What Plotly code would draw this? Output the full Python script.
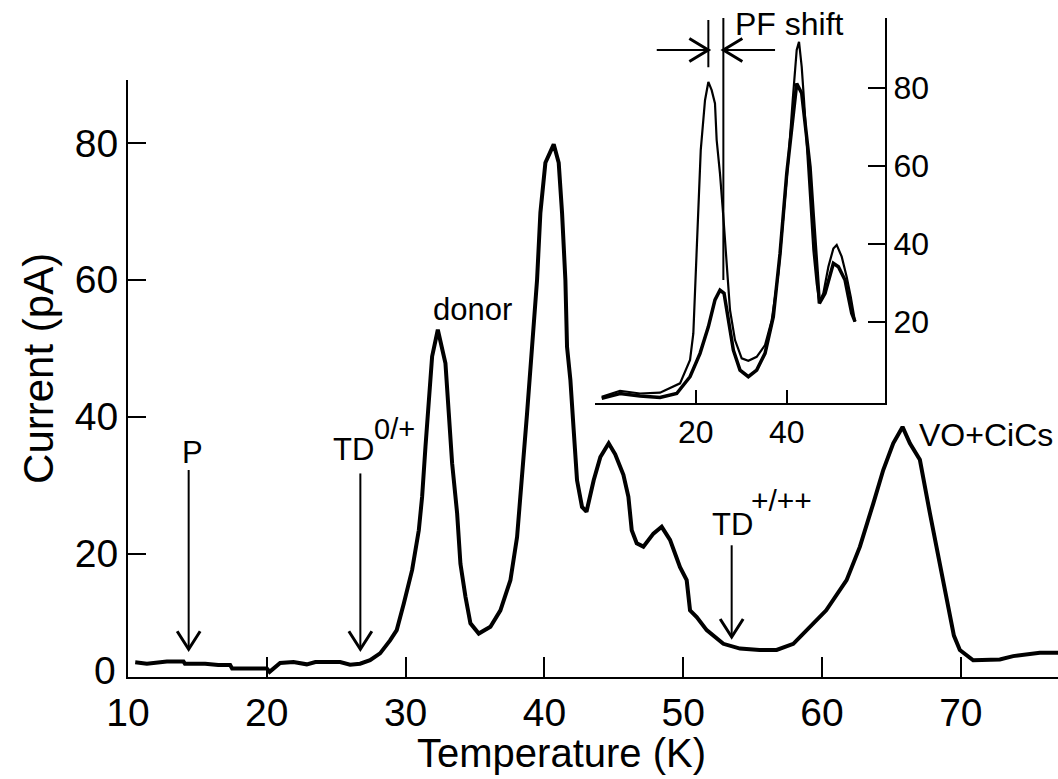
import plotly.graph_objects as go

# ---------------- data ----------------
# main TSC spectrum: temperature (K) and current (pA)
main_T = [10.52, 11.36, 12.8, 14.0, 14.1, 15.56, 16.5, 17.36, 17.5, 18.5, 20.0, 20.2,
          20.96, 21.92, 22.88, 23.5, 25.28, 26.0, 26.72, 27.44, 28.16, 28.88, 29.36,
          29.87, 30.47, 30.95, 31.19, 31.43, 31.67, 31.91, 32.32, 32.87, 33.11, 33.35,
          33.71, 33.95, 34.31, 34.67, 35.27, 36.11, 36.83, 37.55, 38.03, 38.39, 38.75,
          39.11, 39.47, 39.71, 40.07, 40.67, 41.03, 41.27, 41.51, 41.63, 41.87, 42.11,
          42.35, 42.71, 43.03, 43.55, 44.03, 44.63, 45.1, 45.69, 46.05, 46.29, 46.65,
          47.13, 47.85, 48.45, 49.05, 49.41, 49.77, 50.25, 50.49, 50.97, 51.69, 52.89,
          54.09, 55.5, 56.73, 57.93, 58.87, 60.3, 61.77, 62.73, 63.69, 64.41, 65.13,
          65.8, 66.33, 67.05, 67.77, 68.49, 69.09, 69.5, 69.93, 70.89, 72.81, 73.77,
          75.69, 77.0]
main_I = [4.1, 3.9, 4.2, 4.2, 3.9, 3.9, 3.7, 3.7, 3.2, 3.2, 3.2, 2.7,
          4.0, 4.15, 3.8, 4.15, 4.15, 3.75, 3.9, 4.4, 5.4, 7.3, 8.8,
          12.7, 17.6, 23.4, 28.3, 35.6, 42.9, 48.8, 52.7, 47.8, 40.5, 33.2,
          25.9, 18.5, 13.7, 9.8, 8.3, 9.3, 11.7, 16.1, 22.4, 30.7, 40.5,
          50.2, 60.0, 69.8, 77.1, 79.8, 77.1, 69.8, 60.0, 50.2, 45.4, 38.0,
          30.7, 26.8, 26.1, 30.7, 34.1, 36.1, 34.5, 31.5, 28.3, 23.4, 21.5,
          21.0, 22.9, 23.9, 22.0, 20.0, 18.0, 16.1, 11.7, 10.7, 8.8, 6.8,
          6.1, 5.9, 5.9, 6.8, 8.8, 11.7, 16.1, 21.0, 27.3, 32.2, 36.1,
          38.5, 36.1, 33.7, 25.9, 18.5, 11.7, 8.0, 5.9, 4.4, 4.5, 5.0,
          5.5, 5.5]

# inset: thin curve
inset_thin_T = [-0.67, 3.36, 7.76, 12.15, 16.55, 18.75, 19.47, 20.35, 21.1, 22.04, 22.77,
                23.5, 24.23, 24.6, 25.33, 26.07, 26.8, 27.53, 28.63, 30.1, 31.56, 33.4,
                35.23, 36.7, 38.16, 39.26, 40.36, 41.31, 41.82, 42.19, 42.7, 43.29, 43.8,
                45.12, 45.85, 46.58, 47.17, 48.05, 49.15, 50.25, 50.98, 52.08, 53.18,
                54.06, 55.01]
inset_thin_I = [0.77, 2.3, 1.6, 1.8, 4.2, 10.2, 17.0, 42.7, 64.0, 76.8, 81.5,
                79.4, 76.0, 66.6, 58.0, 46.9, 34.1, 23.0, 15.3, 10.6, 10.0, 11.0,
                14.0, 20.4, 32.4, 46.9, 61.5, 76.8, 83.7, 89.7, 91.8, 85.4, 76.8,
                51.2, 38.4, 29.8, 25.1, 27.3, 34.1, 38.8, 39.7, 36.7, 31.5,
                26.4, 20.0]
# inset: thick curve
inset_thick_T = [-0.67, 3.36, 7.76, 12.15, 15.82, 18.75, 20.95, 22.77, 24.23, 25.33, 26.22,
                 27.17, 28.27, 29.73, 31.56, 33.4, 35.23, 37.05, 38.53, 40.0, 41.1, 42.19,
                 43.29, 45.12, 45.85, 46.58, 47.17, 48.42, 50.25, 51.35, 52.81, 53.55,
                 54.28, 55.01]
inset_thick_I = [0.36, 1.6, 0.95, 0.6, 1.6, 5.9, 11.9, 18.7, 25.6, 28.1, 27.3,
                 20.4, 12.7, 7.6, 5.9, 7.6, 11.9, 21.3, 37.5, 58.0, 70.0, 81.1,
                 78.6, 59.7, 46.9, 34.1, 24.7, 27.3, 35.0, 34.1, 30.7, 26.4,
                 22.2, 20.0]

x_tick_vals = [10, 20, 30, 40, 50, 60, 70]
x_tick_text = ["10", "20", "30", "40", "50", "60", "70"]
y_tick_vals = [20, 40, 60, 80]
y_tick_text = ["20", "40", "60", "80"]
y_zero_label = "0"
inset_x_ticks = [20, 40]
inset_y_ticks = [20, 40, 60, 80]

FONT = "Liberation Sans, Arial, sans-serif"
BLACK = "#000000"

# layout geometry
W, H = 1058, 779
M_L, M_R, M_T, M_B = 128, 0, 18, 102
X_RANGE = [10, 77]
Y_RANGE = [1.95, 89.2]
Y_DOM = [0, 0.9059]
X2_RANGE = [-2.13, 61.6]
Y2_RANGE = [-0.77, 97.9]
X2_DOM = [0.5022, 0.814]
Y2_DOM = [0.4162, 1.0]
PW, PH = W - M_L - M_R, H - M_T - M_B


def units_per_px(rng, dom, size):
    return (rng[1] - rng[0]) / ((dom[1] - dom[0]) * size)


ux1 = units_per_px(X_RANGE, [0, 1], PW)
uy1 = units_per_px(Y_RANGE, Y_DOM, PH)
ux2 = units_per_px(X2_RANGE, X2_DOM, PW)
uy2 = units_per_px(Y2_RANGE, Y2_DOM, PH)

fig = go.Figure()
fig.add_trace(go.Scatter(x=main_T, y=main_I, mode="lines",
                         line=dict(color=BLACK, width=4), xaxis="x", yaxis="y",
                         showlegend=False, hoverinfo="skip"))
fig.add_trace(go.Scatter(x=inset_thin_T, y=inset_thin_I, mode="lines",
                         line=dict(color=BLACK, width=2.2), xaxis="x2", yaxis="y2",
                         showlegend=False, hoverinfo="skip"))
fig.add_trace(go.Scatter(x=inset_thick_T, y=inset_thick_I, mode="lines",
                         line=dict(color=BLACK, width=3.5), xaxis="x2", yaxis="y2",
                         showlegend=False, hoverinfo="skip"))

ax_common = dict(showgrid=False, zeroline=False, showline=True, linecolor=BLACK,
                 linewidth=2, ticks="inside", tickcolor=BLACK, tickwidth=2)

fig.update_layout(
    width=W, height=H,
    margin=dict(l=M_L, r=M_R, t=M_T, b=M_B, autoexpand=False),
    paper_bgcolor="white", plot_bgcolor="rgba(0,0,0,0)",
    font=dict(family=FONT, color=BLACK),
    xaxis=dict(domain=[0, 1], range=X_RANGE, tickvals=x_tick_vals, ticktext=x_tick_text,
               ticklen=20, tickfont=dict(size=39, family=FONT), anchor="y", **ax_common),
    yaxis=dict(domain=Y_DOM, range=Y_RANGE, tickvals=y_tick_vals,
               ticktext=y_tick_text, ticklen=18, tickfont=dict(size=39, family=FONT),
               anchor="x", **ax_common),
    xaxis2=dict(domain=X2_DOM, range=X2_RANGE, tickvals=inset_x_ticks,
                ticklen=13, tickfont=dict(size=32, family=FONT), anchor="y2", **ax_common),
    yaxis2=dict(domain=Y2_DOM, range=Y2_RANGE, tickvals=inset_y_ticks,
                ticklen=17, side="right", tickfont=dict(size=32, family=FONT),
                anchor="x2", **ax_common),
)

ann = []
# axis titles
ann.append(dict(text="Temperature (K)", xref="paper", yref="paper", x=0.466, y=-0.116,
                xanchor="center", yanchor="middle", showarrow=False,
                font=dict(size=40, family=FONT)))
ann.append(dict(text="Current (pA)", xref="paper", yref="paper", x=-0.0957, y=0.469,
                xanchor="center", yanchor="middle", textangle=-90, showarrow=False,
                font=dict(size=42, family=FONT)))
ann.append(dict(text=y_zero_label, xref="paper", yref="paper", x=0, y=0.0106,
                xanchor="right", yanchor="middle", xshift=-10, showarrow=False,
                font=dict(size=39, family=FONT)))


def label(text, x, y, xanchor="left", size=31, xref="x", yref="y"):
    ann.append(dict(text=text, x=x, y=y, xref=xref, yref=yref, xanchor=xanchor,
                    yanchor="middle", showarrow=False, font=dict(size=size, family=FONT)))


label("P", 14.68, 34.76, xanchor="center")
label("TD", 24.66, 35.24)
label("0/+", 27.56, 38.2, size=29)
label("TD", 51.93, 24.26)
label("+/++", 54.76, 27.8, size=30)
label("donor", 34.85, 55.6, xanchor="center")
label("VO+CiCs", 66.81, 37.3, size=32)
label("PF shift", 28.2, 96.3, xref="x2", yref="y2", size=32)
fig.update_layout(annotations=ann)

LINE = dict(color=BLACK, width=2)
HEAD = dict(color=BLACK, width=3)
HEAD_LEN, HEAD_HALF = 18, 11.5  # pixels


def down_arrow(x, y_head, y_tail):
    fig.add_shape(type="line", xref="x", yref="y", x0=x, x1=x, y0=y_tail, y1=y_head,
                  line=LINE)
    dx, dy = HEAD_HALF * ux1, HEAD_LEN * uy1
    fig.add_shape(type="path", xref="x", yref="y", line=HEAD,
                  path=f"M {x-dx},{y_head+dy} L {x},{y_head} L {x+dx},{y_head+dy}")


def horiz_arrow(x_head, x_tail, y):
    fig.add_shape(type="line", xref="x2", yref="y2", x0=x_tail, x1=x_head, y0=y, y1=y,
                  line=LINE)
    sgn = 1 if x_tail < x_head else -1
    dx, dy = (HEAD_LEN + 1) * ux2 * sgn, HEAD_HALF * uy2
    fig.add_shape(type="path", xref="x2", yref="y2", line=HEAD,
                  path=f"M {x_head-dx},{y+dy} L {x_head},{y} L {x_head-dx},{y-dy}")


down_arrow(14.37, 6.0, 32.2)
down_arrow(26.74, 6.0, 31.7)
down_arrow(53.49, 7.8, 21.2)
horiz_arrow(22.77, 11.43, 89.7)
horiz_arrow(26.07, 37.43, 89.7)

# peak-position marker lines in the inset
fig.add_shape(type="line", xref="x2", yref="y2", x0=26.07, x1=26.07, y0=30.7, y1=97.9,
              line=LINE)
fig.add_shape(type="line", xref="x2", yref="y2", x0=22.77, x1=22.77, y0=85.3, y1=97.4,
              line=LINE)

fig.write_html("out.html")
